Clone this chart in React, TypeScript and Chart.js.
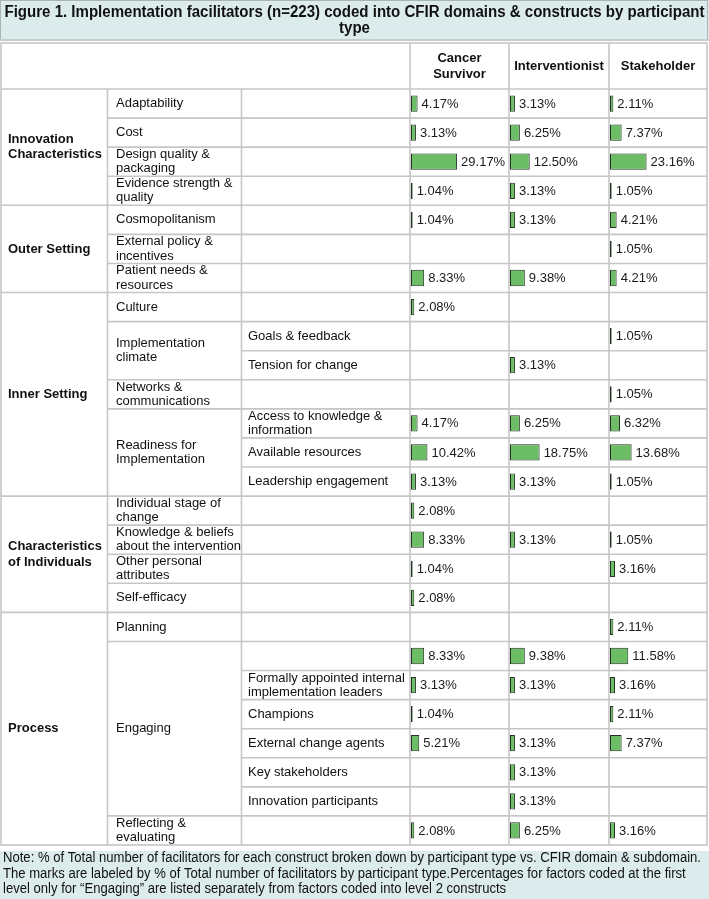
import React, { useEffect, useRef } from "react";
import { Chart, registerables } from "chart.js";

Chart.register(...registerables);

// ---------- data ----------
const titleLines = [
  "Figure 1. Implementation facilitators (n=223) coded into CFIR domains & constructs by participant",
  "type",
];
const participantTypes = ["Cancer\nSurvivor", "Interventionist", "Stakeholder"];
const domainNames = [
  "Innovation\nCharacteristics",
  "Outer Setting",
  "Inner Setting",
  "Characteristics\nof Individuals",
  "Process",
];
const domainRowSpans = [4, 3, 7, 4, 8];
const constructNames = [
  "Adaptability",
  "Cost",
  "Design quality &\npackaging",
  "Evidence strength &\nquality",
  "Cosmopolitanism",
  "External policy &\nincentives",
  "Patient needs &\nresources",
  "Culture",
  "Implementation\nclimate",
  "Networks &\ncommunications",
  "Readiness for\nImplementation",
  "Individual stage of\nchange",
  "Knowledge & beliefs\nabout the intervention",
  "Other personal\nattributes",
  "Self-efficacy",
  "Planning",
  "Engaging",
  "Reflecting &\nevaluating",
];
const constructRowSpans = [1, 1, 1, 1, 1, 1, 1, 1, 2, 1, 3, 1, 1, 1, 1, 1, 6, 1];
const subconstructNames = [
  "", "", "", "", "", "", "", "",
  "Goals & feedback",
  "Tension for change",
  "",
  "Access to knowledge &\ninformation",
  "Available resources",
  "Leadership engagement",
  "", "", "", "", "", "",
  "Formally appointed internal\nimplementation leaders",
  "Champions",
  "External change agents",
  "Key stakeholders",
  "Innovation participants",
  "",
];
const cancerSurvivorPct = [
  4.17, 3.13, 29.17, 1.04, 1.04, null, 8.33, 2.08, null, null, null, 4.17, 10.42,
  3.13, 2.08, 8.33, 1.04, 2.08, null, 8.33, 3.13, 1.04, 5.21, null, null, 2.08,
];
const interventionistPct = [
  3.13, 6.25, 12.5, 3.13, 3.13, null, 9.38, null, null, 3.13, null, 6.25, 18.75,
  3.13, null, 3.13, null, null, null, 9.38, 3.13, null, 3.13, 3.13, 3.13, 6.25,
];
const stakeholderPct = [
  2.11, 7.37, 23.16, 1.05, 4.21, 1.05, 4.21, null, 1.05, null, 1.05, 6.32, 13.68,
  1.05, null, 1.05, 3.16, null, 2.11, 11.58, 3.16, 2.11, 7.37, null, null, 3.16,
];
const noteLines = [
  "Note: % of Total number of facilitators for each construct broken down by participant type vs. CFIR domain & subdomain.",
  "The marks are labeled by % of Total number of facilitators by participant type.Percentages for factors coded at the first",
  "level only for \u201cEngaging\u201d are listed separately from factors coded into level 2 constructs",
];

// ---------- layout / style ----------
const W = 709;
const H = 899;
const COLS = [1, 107.5, 241.5, 410, 509, 609, 707];
const TABLE_TOP = 43;
const HEADER_BOTTOM = 89;
const TABLE_BOTTOM = 845;
const PX_PER_PCT = 1.58;
const BODY_FONT = '"Liberation Sans", Arial, sans-serif';
const GRID = "#c6c6c6";
const TEAL = "#dcecec";

const rowCount = subconstructNames.length;

const constructOfRow: string[] = [];
constructNames.forEach((c, i) => {
  for (let k = 0; k < constructRowSpans[i]; k++) constructOfRow.push(c);
});
const rowLabels = subconstructNames.map((s, i) => (s || constructOfRow[i]).replace("\n", " "));

// draws text compressed horizontally so that the reference line width is matched
function condensedText(
  ctx: CanvasRenderingContext2D,
  lines: string[],
  font: string,
  refWidth: number,
  x: number,
  ys: number[],
  align: CanvasTextAlign
) {
  ctx.font = font;
  const sx = Math.min(1, refWidth / ctx.measureText(lines[0]).width);
  lines.forEach((l, i) => {
    ctx.save();
    ctx.translate(x, ys[i]);
    ctx.scale(sx, 1);
    ctx.textAlign = align;
    ctx.fillText(l, 0, 0);
    ctx.restore();
  });
}

function drawLines(ctx: CanvasRenderingContext2D, text: string, x: number, cy: number, lh: number) {
  const lines = text.split("\n");
  const start = cy - ((lines.length - 1) * lh) / 2;
  lines.forEach((l, i) => ctx.fillText(l, x, start + i * lh));
}

function boundarySet(spans: number[]) {
  const s = new Set<number>();
  let acc = 0;
  spans.forEach((n) => {
    acc += n;
    s.add(acc);
  });
  return s;
}

const tablePlugin = {
  id: "cfirTable",
  beforeDraw(chart: any) {
    const ctx: CanvasRenderingContext2D = chart.ctx;
    ctx.save();
    ctx.fillStyle = "#ffffff";
    ctx.fillRect(0, 0, W, H);
    // title box
    ctx.fillStyle = TEAL;
    ctx.fillRect(0, 0, W, 40);
    ctx.strokeStyle = "#aab4b4";
    ctx.lineWidth = 1;
    ctx.strokeRect(0.5, 0.5, W - 2, 39);
    ctx.fillStyle = "#c4cccc";
    ctx.fillRect(0, 39, W, 2);
    ctx.fillStyle = "#111";
    ctx.textBaseline = "middle";
    condensedText(ctx, titleLines, `bold 16px ${BODY_FONT}`, 700, W / 2, [12.5, 29], "center");
    // footer box
    ctx.fillStyle = TEAL;
    ctx.fillRect(0, 851, W, H - 851);
    ctx.fillStyle = "#111";
    condensedText(ctx, noteLines, `normal 14px ${BODY_FONT}`, 698, 3, [858.5, 874, 889.5], "left");
    ctx.restore();
  },
  beforeDatasetsDraw(chart: any) {
    const ctx: CanvasRenderingContext2D = chart.ctx;
    const area = chart.chartArea;
    const rowH = (area.bottom - area.top) / rowCount;
    const rowTop = (i: number) => area.top + i * rowH;
    ctx.save();
    ctx.strokeStyle = GRID;
    ctx.lineWidth = 1.6;
    const hline = (x0: number, x1: number, y: number) => {
      ctx.beginPath();
      ctx.moveTo(x0, y);
      ctx.lineTo(x1, y);
      ctx.stroke();
    };
    const vline = (x: number, y0: number, y1: number) => {
      ctx.beginPath();
      ctx.moveTo(x, y0);
      ctx.lineTo(x, y1);
      ctx.stroke();
    };
    ctx.strokeRect(COLS[0], TABLE_TOP, COLS[6] - COLS[0], TABLE_BOTTOM - TABLE_TOP);
    hline(COLS[0], COLS[6], HEADER_BOTTOM);
    [3, 4, 5].forEach((c) => vline(COLS[c], TABLE_TOP, TABLE_BOTTOM));
    [1, 2].forEach((c) => vline(COLS[c], HEADER_BOTTOM, TABLE_BOTTOM));
    const dB = boundarySet(domainRowSpans);
    const cB = boundarySet(constructRowSpans);
    for (let i = 1; i < rowCount; i++) {
      const y = rowTop(i);
      const x0 = dB.has(i) ? COLS[0] : cB.has(i) ? COLS[1] : COLS[2];
      hline(x0, COLS[6], y);
    }

    ctx.fillStyle = "#111";
    ctx.textBaseline = "middle";
    ctx.textAlign = "center";
    ctx.font = `bold 13px ${BODY_FONT}`;
    participantTypes.forEach((p, k) => {
      drawLines(ctx, p, (COLS[3 + k] + COLS[4 + k]) / 2, (TABLE_TOP + HEADER_BOTTOM) / 2, 16);
    });
    ctx.textAlign = "left";
    let acc = 0;
    domainNames.forEach((d, i) => {
      const cy = rowTop(acc) + (domainRowSpans[i] * rowH) / 2;
      drawLines(ctx, d, 8, cy, 15.5);
      acc += domainRowSpans[i];
    });
    ctx.font = `normal 13px ${BODY_FONT}`;
    acc = 0;
    constructNames.forEach((c, i) => {
      const cy = rowTop(acc) + (constructRowSpans[i] * rowH) / 2;
      drawLines(ctx, c, 116, cy, 14.3);
      acc += constructRowSpans[i];
    });
    subconstructNames.forEach((s, i) => {
      if (!s) return;
      drawLines(ctx, s, 248, rowTop(i) + rowH / 2, 14.3);
    });
    ctx.restore();
  },
  afterDatasetsDraw(chart: any) {
    const ctx: CanvasRenderingContext2D = chart.ctx;
    ctx.save();
    ctx.font = `normal 13px ${BODY_FONT}`;
    ctx.fillStyle = "#1a1a1a";
    ctx.textAlign = "left";
    ctx.textBaseline = "middle";
    chart.data.datasets.forEach((ds: any, di: number) => {
      const meta = chart.getDatasetMeta(di);
      meta.data.forEach((bar: any, i: number) => {
        const v = ds.data[i];
        if (v === null || v === undefined) return;
        ctx.fillText(`${v.toFixed(2)}%`, bar.x + 4, bar.y + 0.5);
      });
    });
    ctx.restore();
  },
};

function columnScale(k: number) {
  const areaLeft = COLS[3];
  const areaWidth = COLS[6] - COLS[3];
  const zeroPx = COLS[3 + k] + 1;
  const min = -(zeroPx - areaLeft) / PX_PER_PCT;
  return {
    type: "linear" as const,
    axis: "x" as const,
    display: false,
    min,
    max: min + areaWidth / PX_PER_PCT,
    grid: { display: false },
  };
}

export default function App() {
  const ref = useRef<HTMLCanvasElement | null>(null);
  useEffect(() => {
    if (!ref.current) return;
    const seriesList = [cancerSurvivorPct, interventionistPct, stakeholderPct];
    const axisIds = ["xCS", "xInt", "xSt"];
    const chart = new Chart(ref.current, {
      type: "bar",
      data: {
        labels: rowLabels,
        datasets: seriesList.map((data, k) => ({
          label: participantTypes[k].replace("\n", " "),
          data: data as any,
          xAxisID: axisIds[k],
          yAxisID: "y",
          backgroundColor: "#6cbd65",
          borderColor: "#223322",
          borderWidth: 1,
          borderSkipped: false,
          barPercentage: 0.56,
          categoryPercentage: 1,
          grouped: false,
        })),
      },
      options: {
        indexAxis: "y",
        responsive: false,
        animation: false,
        events: [],
        layout: {
          padding: {
            left: COLS[3],
            top: HEADER_BOTTOM,
            right: W - COLS[6],
            bottom: H - TABLE_BOTTOM,
          },
        },
        plugins: {
          legend: { display: false },
          tooltip: { enabled: false },
          title: { display: false },
        },
        scales: {
          y: { type: "category", display: false, grid: { display: false }, offset: true },
          xCS: columnScale(0),
          xInt: columnScale(1),
          xSt: columnScale(2),
        },
      } as any,
      plugins: [tablePlugin],
    });
    return () => chart.destroy();
  }, []);
  return (
    <div style={{ position: "absolute", left: 0, top: 0, width: W, height: H }}>
      <canvas ref={ref} width={W} height={H} style={{ width: W, height: H, display: "block" }} />
    </div>
  );
}
